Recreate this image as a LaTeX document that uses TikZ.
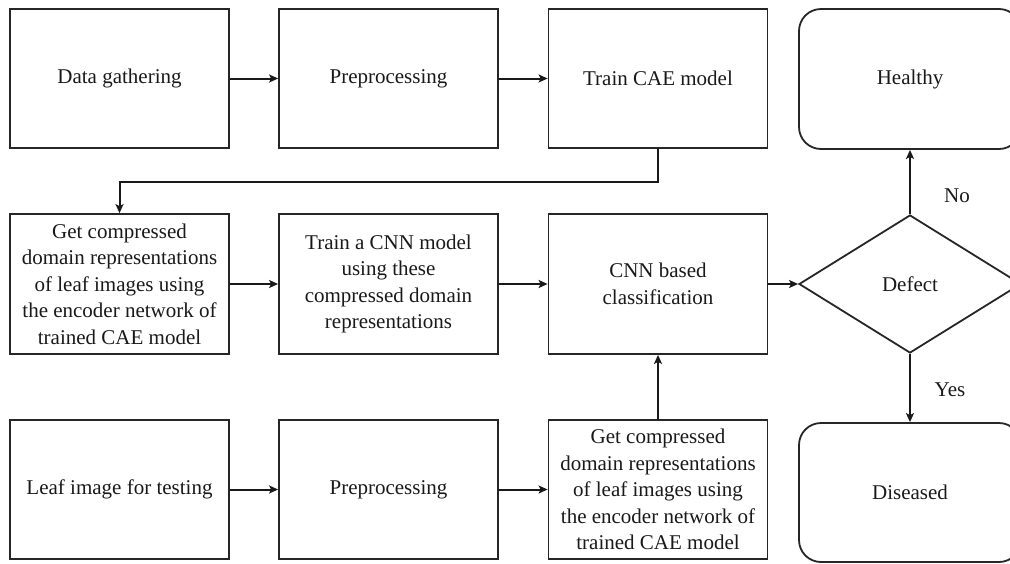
\documentclass[tikz,border=0pt]{standalone}
\usepackage{fontspec}
\setmainfont{Liberation Serif}
\usetikzlibrary{shapes.geometric,arrows.meta}
\begin{document}
\begin{tikzpicture}[x=1pt,y=-1pt,
  every node/.style={font=\fontsize{21}{26.5}\selectfont, text=black!90},
  box/.style={draw=black!85, line width=1.8pt, rectangle, minimum width=219pt, minimum height=139pt, inner sep=0pt, align=center},
  endbox/.style={draw=black!85, line width=1.8pt, rectangle, rounded corners=22pt, minimum width=222pt, minimum height=140pt, inner sep=0pt, align=center},
  decision/.style={draw=black!85, line width=1.8pt, diamond, minimum width=222pt, minimum height=138pt, inner sep=0pt},
  conn/.style={draw=black!90, line width=2pt, -{Stealth[length=9pt,width=8pt,inset=2pt]}},
  lbl/.style={inner sep=0pt}]
\useasboundingbox (0,0) rectangle (1010,563);
\clip (0,0) rectangle (1010,563);
% row 1
\node[box] (a1) at (119.5,78.5) {Data gathering};
\node[box] (a2) at (388.5,78.5) {Preprocessing};
\node[box] (a3) at (658,78.5) {Train CAE model};
\node[endbox] (h) at (910,79) {Healthy};
% row 2
\node[box, minimum height=140pt] (b1) at (119.5,284) {Get compressed\\domain representations\\of leaf images using\\the encoder network of\\trained CAE model};
\node[box, minimum height=140pt] (b2) at (388.5,284) {Train a CNN model\\using these\\compressed domain\\representations};
\node[box, minimum height=140pt] (b3) at (658,284) {CNN based\\classification};
\node[decision] (d) at (910,284) {Defect};
% row 3
\node[box] (c1) at (119.5,489.5) {Leaf image for testing};
\node[box] (c2) at (388.5,489.5) {Preprocessing};
\node[box] (c3) at (658,489.5) {Get compressed\\domain representations\\of leaf images using\\the encoder network of\\trained CAE model};
\node[endbox, minimum height=139pt] (s) at (910,492.5) {Diseased};
% labels
\node[lbl] (no) at (957,196) {No};
\node[lbl] (yes) at (950,390) {Yes};
% connectors
\draw[conn] (a1) -- (a2);
\draw[conn] (a2) -- (a3);
\coordinate (k) at (658,182);
\draw[conn] (a3.south) -- (k) -| (b1.north);
\draw[conn] (b1) -- (b2);
\draw[conn] (b2) -- (b3);
\draw[conn] (b3.east) -- (d.west);
\draw[conn] (c1) -- (c2);
\draw[conn] (c2) -- (c3);
\draw[conn] (c3.north) -- (b3.south);
\draw[conn] (d.north) -- (h.south);
\draw[conn] (d.south) -- (s.north);
\end{tikzpicture}
\end{document}
